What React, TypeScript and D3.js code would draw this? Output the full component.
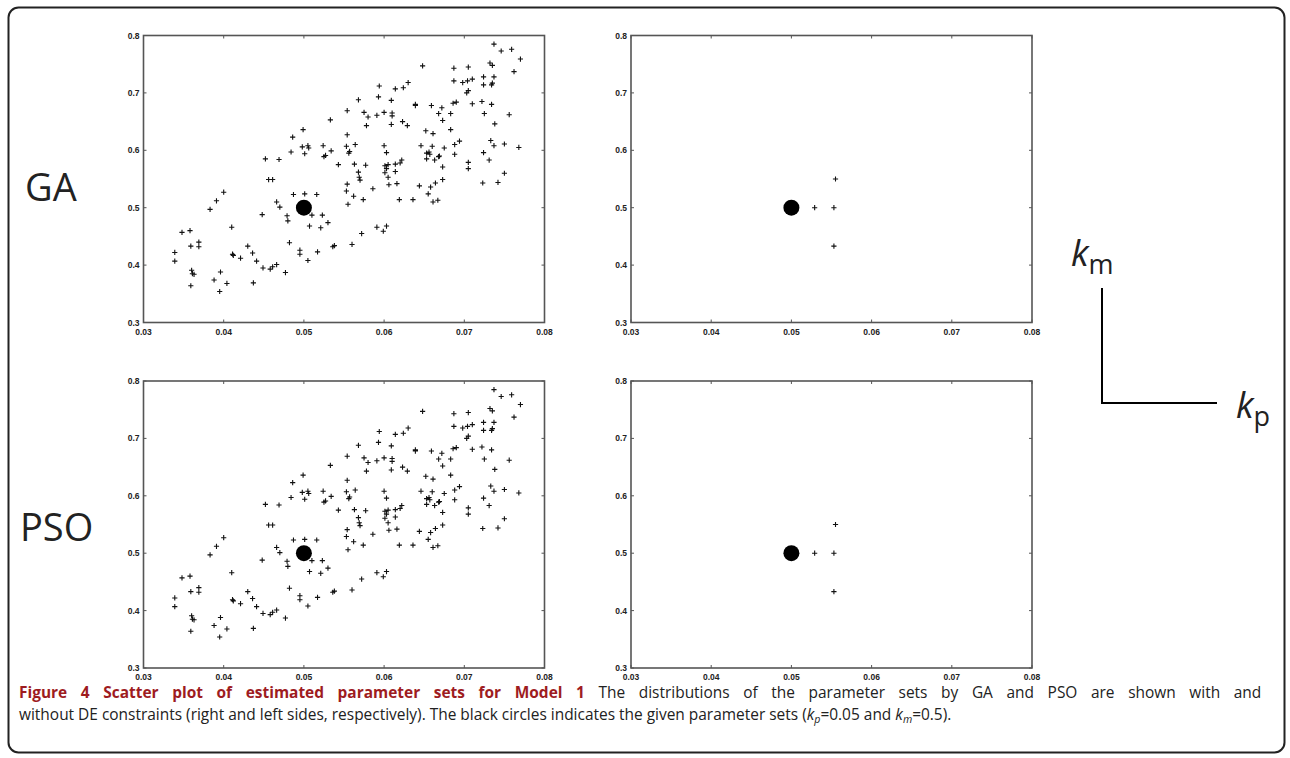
import React, { useLayoutEffect, useRef, useState } from 'react';
import * as d3 from 'd3';

// estimated (kp, km) sets without DE constraints (same set shown for GA and PSO)
const kpFree = [
  0.0554, 0.0533, 0.0499, 0.0486, 0.0554, 0.0484, 0.0498, 0.0505, 0.0506, 0.0501,
  0.0524, 0.0525, 0.0527, 0.0534, 0.0553, 0.0557, 0.0556, 0.0452, 0.0469, 0.0543,
  0.0737, 0.0746, 0.0759, 0.0770, 0.0762, 0.0648, 0.0687, 0.0705, 0.0732, 0.0735,
  0.0687, 0.0698, 0.0704, 0.0710, 0.0703, 0.0705, 0.0724, 0.0737, 0.0724, 0.0734,
  0.0735, 0.0594, 0.0614, 0.0624, 0.0630, 0.0568, 0.0593, 0.0609, 0.0639, 0.0639,
  0.0659, 0.0672, 0.0668, 0.0683, 0.0686, 0.0690, 0.0710, 0.0722, 0.0734, 0.0725,
  0.0756, 0.0738, 0.0575, 0.0580, 0.0591, 0.0600, 0.0610, 0.0610, 0.0578, 0.0609,
  0.0623, 0.0629, 0.0673, 0.0652, 0.0661, 0.0683, 0.0564, 0.0563, 0.0577, 0.0600,
  0.0603, 0.0601, 0.0605, 0.0614, 0.0620, 0.0622, 0.0646, 0.0660, 0.0675, 0.0653,
  0.0656, 0.0657, 0.0668, 0.0669, 0.0653, 0.0663, 0.0688, 0.0694, 0.0688, 0.0673,
  0.0705, 0.0705, 0.0733, 0.0737, 0.0750, 0.0768, 0.0724, 0.0731, 0.0603, 0.0601,
  0.0605, 0.0614, 0.0606, 0.0616, 0.0568, 0.0569, 0.0570, 0.0562, 0.0574, 0.0586,
  0.0619, 0.0636, 0.0644, 0.0673, 0.0658, 0.0655, 0.0664, 0.0661, 0.0667, 0.0723,
  0.0742, 0.0750, 0.0591, 0.0603, 0.0599, 0.0572, 0.0560, 0.0456, 0.0461, 0.0400,
  0.0391, 0.0383, 0.0487, 0.0501, 0.0516, 0.0466, 0.0470, 0.0554, 0.0553, 0.0555,
  0.0448, 0.0479, 0.0480, 0.0510, 0.0523, 0.0507, 0.0521, 0.0530, 0.0348, 0.0358,
  0.0359, 0.0369, 0.0369, 0.0410, 0.0339, 0.0339, 0.0482, 0.0430, 0.0436, 0.0411,
  0.0412, 0.0421, 0.0441, 0.0495, 0.0495, 0.0517, 0.0536, 0.0538, 0.0505, 0.0449,
  0.0458, 0.0461, 0.0466, 0.0477, 0.0360, 0.0361, 0.0363, 0.0359, 0.0396, 0.0388,
  0.0404, 0.0395, 0.0437,
];
const kmFree = [
  0.669, 0.653, 0.636, 0.623, 0.627, 0.597, 0.606, 0.608, 0.604, 0.594,
  0.608, 0.589, 0.591, 0.599, 0.607, 0.598, 0.595, 0.585, 0.584, 0.575,
  0.785, 0.773, 0.776, 0.759, 0.737, 0.747, 0.743, 0.745, 0.752, 0.748,
  0.721, 0.718, 0.721, 0.724, 0.700, 0.704, 0.728, 0.728, 0.714, 0.714,
  0.717, 0.712, 0.707, 0.709, 0.718, 0.688, 0.693, 0.687, 0.680, 0.678,
  0.678, 0.674, 0.664, 0.664, 0.682, 0.684, 0.681, 0.685, 0.680, 0.664,
  0.662, 0.646, 0.666, 0.658, 0.661, 0.666, 0.665, 0.660, 0.643, 0.645,
  0.650, 0.643, 0.652, 0.634, 0.629, 0.636, 0.610, 0.576, 0.574, 0.608,
  0.596, 0.573, 0.575, 0.576, 0.578, 0.583, 0.608, 0.607, 0.604, 0.595,
  0.597, 0.593, 0.589, 0.590, 0.585, 0.583, 0.610, 0.616, 0.593, 0.571,
  0.579, 0.568, 0.617, 0.608, 0.611, 0.605, 0.596, 0.583, 0.568, 0.561,
  0.553, 0.563, 0.540, 0.542, 0.562, 0.553, 0.548, 0.520, 0.514, 0.533,
  0.514, 0.514, 0.538, 0.549, 0.536, 0.524, 0.543, 0.510, 0.513, 0.543,
  0.544, 0.560, 0.466, 0.468, 0.459, 0.455, 0.436, 0.549, 0.549, 0.527,
  0.512, 0.497, 0.523, 0.524, 0.523, 0.510, 0.501, 0.541, 0.529, 0.506,
  0.488, 0.486, 0.477, 0.487, 0.487, 0.468, 0.465, 0.474, 0.457, 0.460,
  0.433, 0.440, 0.432, 0.466, 0.422, 0.407, 0.439, 0.433, 0.421, 0.419,
  0.417, 0.412, 0.407, 0.426, 0.419, 0.423, 0.432, 0.434, 0.408, 0.395,
  0.393, 0.397, 0.401, 0.387, 0.391, 0.385, 0.384, 0.364, 0.388, 0.374,
  0.368, 0.354, 0.369,
];

// with DE constraints
const kpDE = [0.0500, 0.0529, 0.0553, 0.0555, 0.0553];
const kmDE = [0.500, 0.500, 0.500, 0.550, 0.433];

// given parameter set
const trueKp = [0.05];
const trueKm = [0.5];

const xTicks = [0.03, 0.04, 0.05, 0.06, 0.07, 0.08];
const yTicks = [0.3, 0.4, 0.5, 0.6, 0.7, 0.8];
const rowLabels = ['GA', 'PSO'];

const captionTitle = 'Figure 4 Scatter plot of estimated parameter sets for Model 1';
const captionLine1 = 'The distributions of the parameter sets by GA and PSO are shown with and';
const captionLine2 = 'without DE constraints (right and left sides, respectively). The black circles indicates the given parameter sets (';

const PW = 401;
const PH = 287;
const TICK_FONT = "'Liberation Sans', Arial, sans-serif";
const SANS = "'Open Sans', 'Noto Sans', sans-serif";

/* justified caption: line 2 sets the glyph squeeze, line 1 gets wider word gaps */
function Caption() {
  const l1 = useRef<SVGTextElement>(null);
  const l2 = useRef<SVGTextElement>(null);
  const [fit, setFit] = useState({ s: 1, ws: 0 });
  useLayoutEffect(() => {
    if (!l1.current || !l2.current) return;
    const s = 933 / l2.current.getBBox().width;
    const spaces = (captionTitle + ' ' + captionLine1).split(' ').length - 1;
    const ws = (1243 / s - l1.current.getBBox().width) / spaces;
    setFit({ s, ws: Math.max(0, ws) });
  }, []);
  const { s, ws } = fit;
  return (
    <g fontSize={16} fontFamily={SANS}>
      <text ref={l1} transform={`translate(19,698) scale(${s},1)`} fill="#222" style={{ wordSpacing: ws + 'px' }}>
        <tspan fontWeight="bold" fill="#9e1c1f">{captionTitle}</tspan>
        <tspan>{' ' + captionLine1}</tspan>
      </text>
      <text ref={l2} transform={`translate(19,720) scale(${s},1)`} fill="#222">
        {captionLine2}
        <tspan fontStyle="italic">k</tspan>
        <tspan fontStyle="italic" fontSize={11} dy={3}>p</tspan>
        <tspan dy={-3}>=0.05 and </tspan>
        <tspan fontStyle="italic">k</tspan>
        <tspan fontStyle="italic" fontSize={11} dy={3}>m</tspan>
        <tspan dy={-3}>=0.5).</tspan>
      </text>
    </g>
  );
}

function Panel({ x0, y0, kp, km }: { x0: number; y0: number; kp: number[]; km: number[] }) {
  const x = d3.scaleLinear().domain([0.03, 0.08]).range([0, PW]);
  const y = d3.scaleLinear().domain([0.3, 0.8]).range([PH, 0]);
  const fx = d3.format('.2f');
  const fy = d3.format('.1f');
  const pts = kp.map((v, i) => [x(v), y(km[i])]);
  const plusPath = pts.map(([px, py]) => `M${px - 2.6},${py}H${px + 2.6}M${px},${py - 2.6}V${py + 2.6}`).join('');
  return (
    <g transform={`translate(${x0},${y0})`}>
      <path d={plusPath} stroke="#111" strokeWidth={1.1} fill="none" />
      {trueKp.map((v, i) => (
        <circle key={i} cx={x(v)} cy={y(trueKm[i])} r={8} fill="#000" />
      ))}
      {xTicks.map(t => (
        <g key={'x' + t}>
          <line x1={x(t)} x2={x(t)} y1={PH} y2={PH - 3} stroke="#555" />
          <line x1={x(t)} x2={x(t)} y1={0} y2={3} stroke="#555" />
          <text x={x(t)} y={PH + 12} textAnchor="middle" fontSize={8.5} fontWeight="bold" fontFamily={TICK_FONT} fill="#222">
            {fx(t)}
          </text>
        </g>
      ))}
      {yTicks.map(t => (
        <g key={'y' + t}>
          <line x1={0} x2={3} y1={y(t)} y2={y(t)} stroke="#555" />
          <line x1={PW} x2={PW - 3} y1={y(t)} y2={y(t)} stroke="#555" />
          <text x={-4} y={y(t) + 3} textAnchor="end" fontSize={8.5} fontWeight="bold" fontFamily={TICK_FONT} fill="#222">
            {fy(t)}
          </text>
        </g>
      ))}
      <rect x={0} y={0} width={PW} height={PH} fill="none" stroke="#555" strokeWidth={1.6} />
    </g>
  );
}

export default function App() {
  const rows = [35.5, 381];
  return (
    <div style={{ position: 'absolute', left: 0, top: 0, width: 1290, height: 758, background: '#fff' }}>
      <svg width={1290} height={758} style={{ display: 'block' }}>
        <rect x={0} y={0} width={1290} height={758} fill="#fff" />
        <rect x={8.5} y={7.5} width={1276} height={745} rx={10} ry={10} fill="none" stroke="#222" strokeWidth={2} />

        {rows.map((ry, r) => (
          <g key={r}>
            <Panel x0={143.5} y0={ry} kp={kpFree} km={kmFree} />
            <Panel x0={631} y0={ry} kp={kpDE} km={kmDE} />
            <text x={r === 0 ? 25 : 20} y={ry + (r === 0 ? 165 : 160)} fontSize={38} fontFamily={SANS} fill="#222">
              {rowLabels[r]}
            </text>
          </g>
        ))}

        {/* axis key */}
        <path d="M1102,288V403H1217" fill="none" stroke="#000" strokeWidth={2} />
        <text x={1071} y={266} fontFamily={SANS} fill="#222">
          <tspan fontSize={36} fontStyle="italic">k</tspan>
          <tspan fontSize={27} dy={8}>m</tspan>
        </text>
        <text x={1236} y={418} fontFamily={SANS} fill="#222">
          <tspan fontSize={36} fontStyle="italic">k</tspan>
          <tspan fontSize={27} dy={8}>p</tspan>
        </text>

        <Caption />
      </svg>
    </div>
  );
}
